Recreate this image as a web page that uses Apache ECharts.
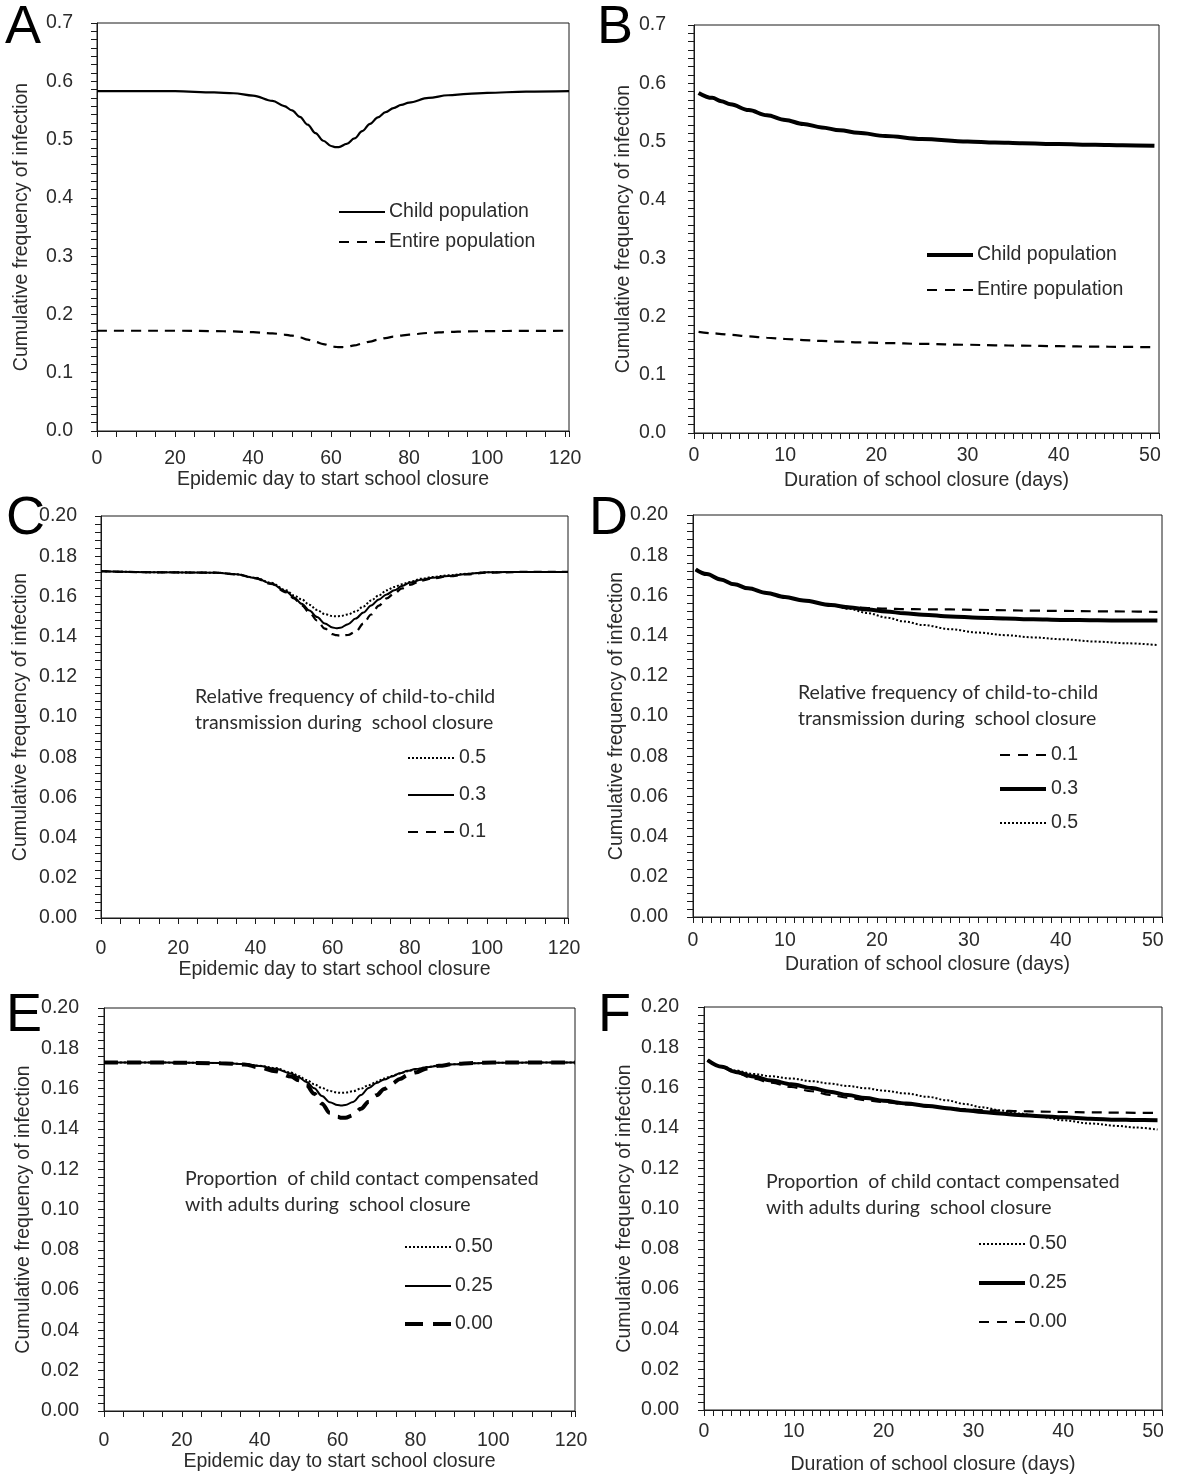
<!DOCTYPE html>
<html>
<head>
<meta charset="utf-8">
<script src="https://cdn.jsdelivr.net/npm/echarts@6/dist/echarts.min.js"></script>
<style>
html, body { margin: 0; padding: 0; background: #fff; }
#container { width: 1200px; height: 1476px; }
</style>
</head>
<body>
<div id="container"></div>
<script>
// A - day school closure starts
var aDays = [0, 10, 20, 30, 35, 40, 45, 48, 50, 52, 54, 56, 58, 60, 61, 62, 64, 66, 68, 70, 72, 74, 76, 78, 80, 85, 90, 95, 100, 110, 121];
var aChild = [0.583, 0.583, 0.583, 0.581, 0.5795, 0.5755, 0.5665, 0.5575, 0.550, 0.539, 0.5255, 0.511, 0.498, 0.489, 0.487, 0.4872, 0.4925, 0.502, 0.5145, 0.527, 0.538, 0.547, 0.554, 0.5595, 0.5635, 0.5715, 0.576, 0.5785, 0.5802, 0.5822, 0.583];
var aEntire = [0.172, 0.172, 0.172, 0.1715, 0.1708, 0.1695, 0.1675, 0.1655, 0.1635, 0.1605, 0.1567, 0.1528, 0.1492, 0.1458, 0.1445, 0.1438, 0.1443, 0.1468, 0.150, 0.1535, 0.1567, 0.1595, 0.1618, 0.1638, 0.1654, 0.1682, 0.1699, 0.1709, 0.1714, 0.1718, 0.172];
var abLegend = ['Child population', 'Entire population'];

// B - duration of closure
var bDays = [0.5, 2, 3, 4, 6, 8, 10, 12, 14, 16, 18, 21, 25, 30, 33, 36, 40, 44, 47, 50.5];
var bChild = [0.5835, 0.575, 0.5693, 0.564, 0.554, 0.545, 0.537, 0.5302, 0.5243, 0.5193, 0.515, 0.5097, 0.5046, 0.5003, 0.4985, 0.4971, 0.4957, 0.4946, 0.4938, 0.4928];
var bEntire = [0.1735, 0.1712, 0.1698, 0.1684, 0.1658, 0.1634, 0.1613, 0.1595, 0.158, 0.1567, 0.1556, 0.1543, 0.1529, 0.1514, 0.1505, 0.1498, 0.1489, 0.1482, 0.1477, 0.1472];

// C - child-to-child transmission, by start day
var cDays = [0, 15, 30, 35, 40, 44, 48, 50, 52, 54, 56, 58, 60, 61, 62, 64, 66, 68, 70, 72, 74, 76, 78, 80, 83, 86, 90, 95, 100, 110, 121];
var cHalf = [0.1725, 0.172, 0.1718, 0.171, 0.1693, 0.1668, 0.163, 0.1605, 0.1585, 0.1558, 0.1532, 0.1512, 0.1502, 0.1501, 0.1502, 0.151, 0.1525, 0.155, 0.158, 0.1605, 0.163, 0.1647, 0.166, 0.1672, 0.1688, 0.1697, 0.1705, 0.1713, 0.172, 0.1722, 0.1722];
var cThird = [0.1725, 0.172, 0.1718, 0.171, 0.1692, 0.1665, 0.1625, 0.1595, 0.1563, 0.153, 0.1497, 0.1465, 0.1445, 0.1442, 0.1444, 0.1462, 0.149, 0.152, 0.1555, 0.1585, 0.161, 0.163, 0.1652, 0.1668, 0.1683, 0.1693, 0.1702, 0.1712, 0.172, 0.1722, 0.1722];
var cTenth = [0.1725, 0.172, 0.1718, 0.171, 0.169, 0.1662, 0.162, 0.159, 0.1555, 0.152, 0.148, 0.144, 0.1412, 0.1407, 0.1405, 0.1408, 0.1425, 0.1465, 0.151, 0.1554, 0.159, 0.1615, 0.164, 0.1657, 0.1678, 0.169, 0.170, 0.171, 0.1718, 0.1722, 0.1722];

// D - child-to-child transmission, by duration
var dDays = [0.3, 1.5, 3, 4.5, 6, 8, 10, 12, 15, 17, 19, 21, 23, 25, 28, 31, 34, 37, 40, 44, 47, 50.5];
var dTenth = [0.1729, 0.1706, 0.1679, 0.1655, 0.1635, 0.1612, 0.1592, 0.1575, 0.1552, 0.1543, 0.1537, 0.1534, 0.1532, 0.1531, 0.153, 0.1528, 0.1526, 0.1524, 0.1523, 0.1521, 0.152, 0.1518];
var dThird = [0.1729, 0.1706, 0.1679, 0.1655, 0.1635, 0.1612, 0.1592, 0.1575, 0.1552, 0.154, 0.153, 0.152, 0.1511, 0.1504, 0.1495, 0.1489, 0.1485, 0.1481, 0.1478, 0.1476, 0.1475, 0.1475];
var dHalf = [0.1729, 0.1706, 0.1679, 0.1655, 0.1635, 0.1612, 0.1592, 0.1575, 0.1552, 0.1533, 0.1512, 0.149, 0.147, 0.1453, 0.1432, 0.1415, 0.1402, 0.1391, 0.1382, 0.137, 0.1362, 0.1353];
var cdTitle = 'Relative frequency of child-to-child\ntransmission during  school closure';
var cLegend = ['0.5', '0.3', '0.1'];
var dLegend = ['0.1', '0.3', '0.5'];

// E - contact compensated with adults, by start day
var eDays = [0, 15, 30, 36, 40, 44, 48, 50, 52, 54, 56, 58, 60, 61, 62, 64, 66, 68, 70, 72, 74, 76, 78, 80, 83, 86, 90, 95, 100, 110, 121];
var eHalf = [0.1729, 0.1729, 0.1727, 0.1722, 0.1713, 0.1702, 0.168, 0.1663, 0.1643, 0.1622, 0.1603, 0.1588, 0.158, 0.1579, 0.158, 0.1587, 0.16, 0.1617, 0.1634, 0.165, 0.1663, 0.1675, 0.1686, 0.1695, 0.1707, 0.1715, 0.1721, 0.1726, 0.1728, 0.1729, 0.1729];
var eQuarter = [0.1729, 0.1729, 0.1727, 0.1722, 0.1712, 0.1698, 0.1675, 0.1656, 0.1633, 0.1602, 0.1563, 0.1532, 0.1518, 0.1516, 0.1518, 0.1534, 0.1568, 0.1603, 0.1628, 0.1645, 0.166, 0.1676, 0.1688, 0.1697, 0.1706, 0.1714, 0.1721, 0.1726, 0.1728, 0.1729, 0.1729];
var eZero = [0.1729, 0.1729, 0.1726, 0.172, 0.1705, 0.1686, 0.166, 0.1642, 0.1617, 0.1575, 0.1525, 0.148, 0.146, 0.1455, 0.1455, 0.1468, 0.150, 0.1535, 0.1567, 0.1598, 0.1625, 0.1648, 0.1666, 0.168, 0.170, 0.1713, 0.1722, 0.1727, 0.1729, 0.1729, 0.1729];

// F - contact compensated with adults, by duration
var fDays = [0.4, 2, 3.5, 5.5, 7.5, 9.7, 12, 14, 16, 18, 20, 22.5, 25, 27, 29, 31, 33, 35, 37.5, 40, 43, 46, 48, 50.5];
var fHalf = [0.1736, 0.1705, 0.1685, 0.1668, 0.1656, 0.1645, 0.1632, 0.162, 0.1608, 0.1597, 0.1585, 0.1571, 0.1554, 0.1537, 0.1519, 0.1502, 0.1487, 0.1472, 0.1455, 0.1438, 0.1422, 0.141, 0.1402, 0.1392];
var fQuarter = [0.1736, 0.1703, 0.1678, 0.1655, 0.1635, 0.1617, 0.1598, 0.158, 0.1563, 0.1548, 0.1535, 0.1521, 0.1509, 0.1498, 0.1488, 0.1479, 0.1471, 0.1464, 0.1458, 0.1453, 0.1446, 0.1441, 0.1439, 0.1438];
var fZero = [0.1736, 0.17, 0.1675, 0.1645, 0.1624, 0.1603, 0.1582, 0.1564, 0.155, 0.1538, 0.1528, 0.1517, 0.1507, 0.1499, 0.1493, 0.1488, 0.1485, 0.1483, 0.1481, 0.1479, 0.1477, 0.1476, 0.1475, 0.1474];
var efTitle = 'Proportion  of child contact compensated\nwith adults during  school closure';
var efLegend = ['0.50', '0.25', '0.00'];

var panelLetters = ['A', 'B', 'C', 'D', 'E', 'F'];
var yTitle = 'Cumulative frequency of infection';
var xTitleStart = 'Epidemic day to start school closure';
var xTitleDuration = 'Duration of school closure (days)';

var ARIAL = '"Liberation Sans", Arial, sans-serif';
var CALIBRI = 'Lato, "Open Sans", sans-serif';
var TEXT = '#2b2b2b';
var AXIS = '#1a1a1a';
var FS = 19.5;

function pairs(xs, ys) {
	var out = [];
	for (var i = 0; i < xs.length; i++) out.push([xs[i], ys[i]]);
	return out;
}

// grid boxes, in px (left, top, width, height)
var grids = [
	{left: 97, top: 23, width: 472, height: 408},
	{left: 694, top: 25, width: 465, height: 408},
	{left: 101, top: 516, width: 467, height: 402},
	{left: 693, top: 515, width: 469, height: 402},
	{left: 104, top: 1008, width: 471, height: 403},
	{left: 704, top: 1007, width: 458, height: 403}
].map(function(g) {
	g.show = true; g.borderColor = AXIS; g.borderWidth = 1; g.containLabel = false;
	return g;
});

function xAxisFor(idx, max, step, labelStep, margin, nameGap, name) {
	return {
		type: 'value', gridIndex: idx, min: 0, max: max, interval: step,
		name: name, nameLocation: 'middle', nameGap: nameGap,
		nameTextStyle: {fontFamily: ARIAL, fontSize: FS, color: TEXT},
		axisLine: {show: true, onZero: false, lineStyle: {color: AXIS, width: 1}},
		axisTick: {show: true, length: 6, lineStyle: {color: AXIS, width: 1}},
		axisLabel: {
			margin: margin, fontFamily: ARIAL, fontSize: FS, color: TEXT,
			showMaxLabel: true, showMinLabel: true,
			formatter: function(v) {
				var r = v / labelStep;
				return Math.abs(r - Math.round(r)) < 1e-6 ? String(Math.round(v)) : '';
			}
		},
		splitLine: {show: false}
	};
}

function yAxisFor(idx, max, step, minorSplit, digits, margin, nameGap) {
	return {
		type: 'value', gridIndex: idx, min: 0, max: max, interval: step,
		name: yTitle, nameLocation: 'middle', nameGap: nameGap,
		nameTextStyle: {fontFamily: ARIAL, fontSize: FS, color: TEXT},
		axisLine: {show: true, onZero: false, lineStyle: {color: AXIS, width: 1}},
		axisTick: {show: true, length: 6, lineStyle: {color: AXIS, width: 1}},
		minorTick: {show: true, splitNumber: minorSplit, length: 6, lineStyle: {color: AXIS, width: 1}},
		axisLabel: {
			margin: margin, fontFamily: ARIAL, fontSize: FS, color: TEXT,
			formatter: function(v) { return v.toFixed(digits); }
		},
		splitLine: {show: false},
		minorSplitLine: {show: false}
	};
}

function lineSeries(idx, name, xs, ys, width, dash) {
	return {
		type: 'line', name: name, xAxisIndex: idx, yAxisIndex: idx,
		data: pairs(xs, ys), symbol: 'none', showSymbol: false,
		smooth: 0.35, smoothMonotone: 'x', silent: true,
		lineStyle: {color: '#000', width: width, type: dash || 'solid', cap: 'butt'}
	};
}

// legend samples drawn as little lines with text next to them
function legendGroup(x1, x2, tx, entries) {
	var items = [];
	entries.forEach(function(e) {
		items.push({
			type: 'line', silent: true,
			shape: {x1: x1, y1: e.y, x2: x2, y2: e.y},
			style: {stroke: '#000', lineWidth: e.w, lineDash: e.dash || null, lineCap: 'butt'}
		});
		items.push({
			type: 'text', silent: true, x: tx, y: e.y,
			style: {text: e.text, fontFamily: ARIAL, fontSize: FS, fill: TEXT, verticalAlign: 'middle'}
		});
	});
	return items;
}

function blockText(x, y, text) {
	return {
		type: 'text', silent: true, x: x, y: y,
		style: {text: text, fontFamily: CALIBRI, fontSize: 19.5, lineHeight: 26, fill: TEXT, verticalAlign: 'top'}
	};
}

function letter(x, y, t) {
	return {
		type: 'text', silent: true, x: x, y: y,
		style: {text: t, fontFamily: ARIAL, fontSize: 54, fill: '#000', verticalAlign: 'middle'}
	};
}

var DOT = [2, 2];
var DASH = [10, 7];
var LDASH = [10, 8];

var graphics = [].concat(
	legendGroup(339, 385, 389, [
		{y: 212, w: 2.2, text: abLegend[0]},
		{y: 242, w: 2.2, dash: LDASH, text: abLegend[1]}
	]),
	legendGroup(927, 973, 977, [
		{y: 255, w: 4, text: abLegend[0]},
		{y: 290, w: 2.2, dash: LDASH, text: abLegend[1]}
	]),
	[blockText(195, 684, cdTitle)],
	legendGroup(408, 454, 459, [
		{y: 758, w: 2, dash: DOT, text: cLegend[0]},
		{y: 795, w: 2.2, text: cLegend[1]},
		{y: 832, w: 2.2, dash: LDASH, text: cLegend[2]}
	]),
	[blockText(798, 680, cdTitle)],
	legendGroup(1000, 1046, 1051, [
		{y: 755, w: 2.2, dash: LDASH, text: dLegend[0]},
		{y: 789, w: 4, text: dLegend[1]},
		{y: 823, w: 2, dash: DOT, text: dLegend[2]}
	]),
	[blockText(185, 1166, efTitle)],
	legendGroup(405, 451, 455, [
		{y: 1247, w: 2, dash: DOT, text: efLegend[0]},
		{y: 1286, w: 2.2, text: efLegend[1]},
		{y: 1324, w: 4, dash: [18, 10], text: efLegend[2]}
	]),
	[blockText(766, 1169, efTitle)],
	legendGroup(979, 1025, 1029, [
		{y: 1244, w: 2, dash: DOT, text: efLegend[0]},
		{y: 1283, w: 4, text: efLegend[1]},
		{y: 1322, w: 2.2, dash: LDASH, text: efLegend[2]}
	]),
	[
		letter(5, 28, panelLetters[0]),
		letter(597, 28, panelLetters[1]),
		letter(6, 519, panelLetters[2]),
		letter(589, 519, panelLetters[3]),
		letter(6, 1016, panelLetters[4]),
		letter(598, 1016, panelLetters[5])
	]
);

var option = {
	backgroundColor: '#fff',
	animation: false,
	grid: grids,
	xAxis: [
		xAxisFor(0, 121, 5, 20, 18, 38, xTitleStart),
		xAxisFor(1, 51, 1, 10, 13, 38, xTitleDuration),
		xAxisFor(2, 121, 5, 20, 21, 37, xTitleStart),
		xAxisFor(3, 51, 1, 10, 14, 38, xTitleDuration),
		xAxisFor(4, 121, 5, 20, 20, 38, xTitleStart),
		xAxisFor(5, 51, 1, 10, 12, 45, xTitleDuration)
	],
	yAxis: [
		yAxisFor(0, 0.7, 0.1, 7, 1, 24, 65),
		yAxisFor(1, 0.7, 0.1, 7, 1, 28, 60),
		yAxisFor(2, 0.2, 0.02, 5, 2, 24, 70),
		yAxisFor(3, 0.2, 0.02, 5, 2, 25, 66),
		yAxisFor(4, 0.2, 0.02, 5, 2, 25, 70),
		yAxisFor(5, 0.2, 0.02, 5, 2, 25, 69)
	],
	series: [
		lineSeries(0, 'A child', aDays, aChild, 2.2),
		lineSeries(0, 'A entire', aDays, aEntire, 2.2, DASH),
		lineSeries(1, 'B child', bDays, bChild, 4),
		lineSeries(1, 'B entire', bDays, bEntire, 2.2, DASH),
		lineSeries(2, 'C 0.1', cDays, cTenth, 2.2, [8, 6]),
		lineSeries(2, 'C 0.3', cDays, cThird, 2),
		lineSeries(2, 'C 0.5', cDays, cHalf, 2, DOT),
		lineSeries(3, 'D 0.3', dDays, dThird, 4),
		lineSeries(3, 'D 0.1', dDays, dTenth, 2.2, DASH),
		lineSeries(3, 'D 0.5', dDays, dHalf, 2, DOT),
		lineSeries(4, 'E 0.00', eDays, eZero, 4, [14, 9]),
		lineSeries(4, 'E 0.25', eDays, eQuarter, 2),
		lineSeries(4, 'E 0.50', eDays, eHalf, 2, DOT),
		lineSeries(5, 'F 0.25', fDays, fQuarter, 4),
		lineSeries(5, 'F 0.00', fDays, fZero, 2.2, DASH),
		lineSeries(5, 'F 0.50', fDays, fHalf, 2, DOT)
	],
	graphic: graphics
};

var chart = echarts.init(document.getElementById('container'), null, {renderer: 'canvas'});
chart.setOption(option);
</script>
</body>
</html>
